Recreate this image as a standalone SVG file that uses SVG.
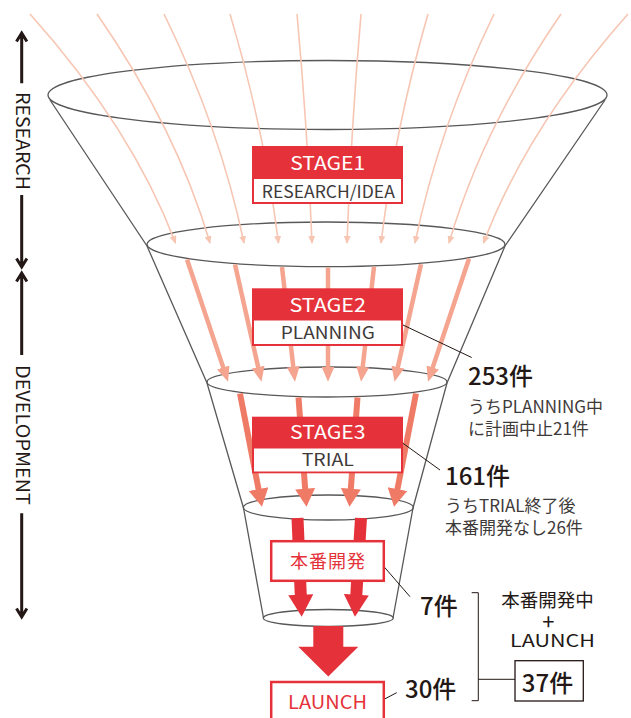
<svg xmlns="http://www.w3.org/2000/svg" width="631" height="718" viewBox="0 0 631 718">
<style>
text{font-family:"Noto Sans CJK JP","Noto Sans",sans-serif;}
.fun{fill:none;stroke:#595757;stroke-width:1.3;}
.a1{fill:none;stroke:#f7c6b3;stroke-width:1.6;marker-end:url(#m1);}
.a2{fill:none;stroke:#f4a48f;stroke-width:4.5;marker-end:url(#m2);}
.a3{fill:none;stroke:#ef7b67;stroke-width:6;marker-end:url(#m3);}
.a4{fill:none;stroke:#e5323a;stroke-width:12;marker-end:url(#m4);}
.lead{fill:none;stroke:#231815;stroke-width:1;}
.axis{fill:none;stroke:#231815;stroke-width:3;}
.hdr{fill:#e5323a;}
.inner{fill:#fff;}
.ht{fill:#fff;font-size:19px;text-anchor:middle;}
.st{fill:#3e3a39;font-size:17px;text-anchor:middle;}
.rbox{fill:#fff;stroke:#e5323a;stroke-width:2.5;}
.rt{fill:#e5323a;text-anchor:middle;}
.num{fill:#231815;font-size:24px;font-weight:500;}
.note{fill:#3e3a39;font-size:17px;}
.vt{fill:#231815;font-size:18px;text-anchor:middle;}
</style>
<defs>
<marker id="m1" markerUnits="userSpaceOnUse" markerWidth="8" markerHeight="7" viewBox="0 0 8 7" refX="7" refY="3.5" orient="auto"><path d="M0,0 L8,3.5 L0,7 Z" fill="#f7c6b3"/></marker>
<marker id="m2" markerUnits="userSpaceOnUse" markerWidth="15" markerHeight="13" viewBox="0 0 15 13" refX="2" refY="6.5" orient="auto"><path d="M0,0 L15,6.5 L0,13 Z" fill="#f4a48f"/></marker>
<marker id="m3" markerUnits="userSpaceOnUse" markerWidth="18" markerHeight="20" viewBox="0 0 18 20" refX="2" refY="10" orient="auto"><path d="M0,0 L18,10 L0,20 Z" fill="#ef7b67"/></marker>
<marker id="m4" markerUnits="userSpaceOnUse" markerWidth="22" markerHeight="25" viewBox="0 0 22 25" refX="2" refY="12.5" orient="auto"><path d="M0,0 L22,12.5 L0,25 Z" fill="#e5323a"/></marker>
</defs>

<g id="funnel">
<ellipse class="fun" cx="327.5" cy="95" rx="279.5" ry="34.5"/>
<ellipse class="fun" cx="326" cy="244.3" rx="179" ry="22.3"/>
<ellipse class="fun" cx="327" cy="382" rx="120" ry="15"/>
<ellipse class="fun" cx="328.3" cy="507.5" rx="85" ry="12.5"/>
<ellipse class="fun" cx="328.3" cy="618" rx="65" ry="8.5"/>
<path class="fun" d="M50,100 L147,246 L207,383 L243.5,508 L263.5,618"/>
<path class="fun" d="M605,100 L505,246 L447,383 L413,508 L393,618"/>
</g>

<g id="connectors">
<path class="a1" d="M30,14 Q131.9,128 175.5,243"/>
<path class="a1" d="M97,14 Q176.1,128 210,243"/>
<path class="a1" d="M164,14 Q220,128 244,243"/>
<path class="a1" d="M230,14 Q264,128 278.5,243"/>
<path class="a1" d="M297,14 Q307.5,128 312,243"/>
<path class="a1" d="M361,14 Q351.2,128 347,243"/>
<path class="a1" d="M428,14 Q395.1,128 381,243"/>
<path class="a1" d="M494,14 Q438.7,128 415,243"/>
<path class="a1" d="M561,14 Q482.6,128 449,243"/>
<path class="a1" d="M628,14 Q526.9,128 483.5,243"/>

<path class="a2" d="M187,259.5 L223.9,369.4"/>
<path class="a2" d="M235,264.5 L258.6,369"/>
<path class="a2" d="M282,267 L293.5,368.8"/>
<path class="a2" d="M328,267.5 L328,368.7"/>
<path class="a2" d="M374,266.8 L362.5,368.8"/>
<path class="a2" d="M421,264.2 L397.4,369"/>
<path class="a2" d="M469,258.7 L432.1,369.4"/>

<path class="a3" d="M240,393.5 L258.9,491"/>
<path class="a3" d="M298.5,397.5 L305.3,490.7"/>
<path class="a3" d="M357.5,397.5 L350.7,490.7"/>
<path class="a3" d="M416,393.5 L397.1,491"/>

<path class="a4" d="M297.5,518 L300.85,596.7"/>
<path class="a4" d="M361,518 L356.2,596.7"/>

<polygon id="bigarrow" points="313.3,626 343.3,626 343.3,646.7 358.3,646.7 328.3,676.5 298.3,646.7 313.3,646.7" fill="#e5323a"/>

<path class="lead" d="M403,325 L471.7,357.5"/>
<path class="lead" d="M403,443.3 L440,470"/>
<path class="lead" d="M384,566.7 L410,596.7"/>
<path class="lead" d="M384,699.3 L396.7,692.7"/>
<path class="lead" d="M471.7,592.7 H478.3 V700.7 H471.7 M478.3,679.3 H515"/>
</g>

<g id="axis">
<path class="axis" d="M21.7,33 V83.3 M16.5,41.5 L21.7,33 L26.9,41.5"/>
<text class="vt" transform="translate(15.5,141) rotate(90)" textLength="98" lengthAdjust="spacingAndGlyphs">RESEARCH</text>
<path class="axis" d="M21.7,195 V267 M16.5,258.5 L21.7,267 L26.9,258.5"/>
<path class="axis" d="M21.7,273 V355 M16.5,281.5 L21.7,273 L26.9,281.5"/>
<text class="vt" transform="translate(15.5,435) rotate(90)" textLength="140" lengthAdjust="spacingAndGlyphs">DEVELOPMENT</text>
<path class="axis" d="M21.7,513.3 V617 M16.5,608.5 L21.7,617 L26.9,608.5"/>
</g>

<g id="stage1">
<rect class="hdr" x="252" y="146" width="151" height="58"/>
<rect class="inner" x="254" y="179" width="147" height="23"/>
<text class="ht" x="327.7" y="170" textLength="75" lengthAdjust="spacingAndGlyphs">STAGE1</text>
<text class="st" x="328.3" y="198.3" textLength="133" lengthAdjust="spacingAndGlyphs">RESEARCH/IDEA</text>
</g>

<g id="stage2">
<rect class="hdr" x="252" y="288.3" width="151" height="57.7"/>
<rect class="inner" x="254" y="320.5" width="147" height="23.5"/>
<text class="ht" x="327.7" y="311.7" textLength="76.5" lengthAdjust="spacingAndGlyphs">STAGE2</text>
<text class="st" x="327.8" y="339.3" textLength="94" lengthAdjust="spacingAndGlyphs">PLANNING</text>
</g>

<g id="stage3">
<rect class="hdr" x="252" y="416.7" width="151" height="56.6"/>
<rect class="inner" x="254" y="448.5" width="147" height="23"/>
<text class="ht" x="327.8" y="439.3" textLength="75.5" lengthAdjust="spacingAndGlyphs">STAGE3</text>
<text class="st" x="327.8" y="466" textLength="52.3" lengthAdjust="spacingAndGlyphs">TRIAL</text>
</g>

<g id="honban">
<rect class="rbox" x="271.2" y="541.2" width="112.6" height="39.6"/>
<text class="rt" x="328" y="567.5" font-size="18" letter-spacing="1">本番開発</text>
</g>

<g id="launch">
<rect class="rbox" x="271.2" y="682" width="112.6" height="42"/>
<text class="rt" x="327.5" y="709.3" font-size="19" textLength="79" lengthAdjust="spacingAndGlyphs">LAUNCH</text>
</g>

<g id="label253">
<text class="num" x="468" y="385">253件</text>
<text class="note" x="468" y="412.7">うちPLANNING中</text>
<text class="note" x="468" y="435">に計画中止21件</text>
</g>

<g id="label161">
<text class="num" x="445" y="485">161件</text>
<text class="note" x="445" y="511.7">うちTRIAL終了後</text>
<text class="note" x="445" y="534">本番開発なし26件</text>
</g>

<g id="label7">
<text class="num" x="420" y="615" font-size="25">7件</text>
</g>
<g id="label30">
<text class="num" x="405" y="698.3" font-size="25">30件</text>
</g>

<g id="total">
<text fill="#231815" font-size="18.5" x="547.5" y="606.5" text-anchor="middle">本番開発中</text>
<text fill="#231815" font-size="22" x="548.3" y="629.5" text-anchor="middle">+</text>
<text fill="#231815" font-size="17" x="552.5" y="647.3" text-anchor="middle" textLength="85" lengthAdjust="spacingAndGlyphs">LAUNCH</text>
<rect x="515" y="660.7" width="68.3" height="40.3" fill="#fff" stroke="#231815" stroke-width="1.3"/>
<text class="num" x="547.5" y="691.7" font-size="25" text-anchor="middle">37件</text>
</g>
</svg>
